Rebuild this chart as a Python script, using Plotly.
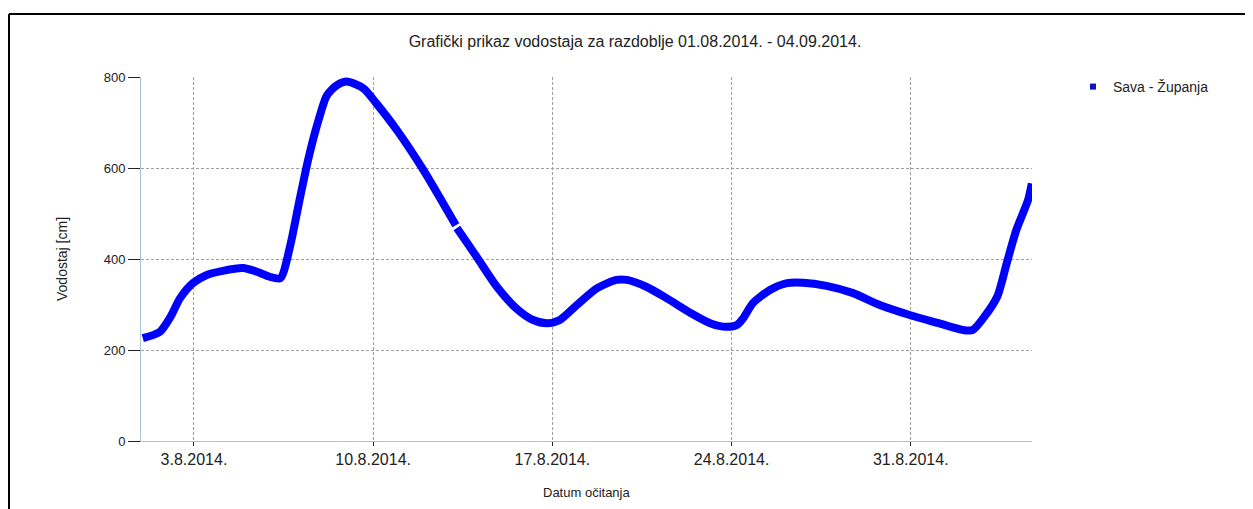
import plotly.graph_objects as go

# ---- data ----
times = [
    "2014-08-01 00:00", "2014-08-01 16:00", "2014-08-02 02:00", "2014-08-02 11:00",
    "2014-08-02 23:00", "2014-08-03 12:00", "2014-08-04 03:00", "2014-08-04 22:00",
    "2014-08-05 11:00", "2014-08-05 23:00", "2014-08-06 09:00", "2014-08-06 18:00",
    "2014-08-07 03:00", "2014-08-07 11:00", "2014-08-07 19:00", "2014-08-08 04:00",
    "2014-08-08 09:00", "2014-08-08 14:00", "2014-08-08 23:00", "2014-08-09 15:00",
    "2014-08-10 03:00",
    "2014-08-10 22:00", "2014-08-11 23:00", "2014-08-12 14:00", "2014-08-13 05:30",
    None,
    "2014-08-13 06:30", "2014-08-14 01:00", "2014-08-14 20:00", "2014-08-15 14:00",
    "2014-08-16 06:00", "2014-08-16 19:00", "2014-08-17 07:00", "2014-08-17 23:00",
    "2014-08-18 18:00", "2014-08-19 12:00", "2014-08-19 22:00", "2014-08-20 16:00",
    "2014-08-21 11:00", "2014-08-22 10:00", "2014-08-23 04:00", "2014-08-23 19:00",
    "2014-08-24 05:00", "2014-08-24 11:00", "2014-08-24 20:00", "2014-08-25 12:00",
    "2014-08-26 04:00", "2014-08-26 19:00", "2014-08-27 17:00", "2014-08-28 18:00",
    "2014-08-29 19:00", "2014-08-30 23:00", "2014-09-01 02:00", "2014-09-02 01:00",
    "2014-09-02 10:00", "2014-09-02 20:00", "2014-09-03 09:00", "2014-09-03 18:00",
    "2014-09-04 03:00", "2014-09-04 14:00", "2014-09-04 17:30",
]
levels_cm = [
    226, 240, 273, 314,
    347, 365, 374, 380,
    372, 361, 358, 427,
    530, 618, 691, 757,
    772, 782, 790, 775,
    742,
    684, 596, 537, 474,
    None,
    468, 405, 339, 292,
    266, 259, 266, 299,
    336, 354, 354, 339,
    314, 281, 259, 251,
    255, 270, 303, 332,
    347, 348, 341, 325,
    299, 277, 259, 244,
    244, 270, 317, 391,
    464, 530, 566,
]
series_name = "Sava - Županja"
title_text = "Grafički prikaz vodostaja za razdoblje 01.08.2014. - 04.09.2014."
x_title = "Datum očitanja"
y_title = "Vodostaj [cm]"
x_range = ["2014-07-31 22:20", "2014-09-04 17:40"]
y_range = [0, 800]

FONT = "Liberation Sans, Arial, sans-serif"
BLUE = "#0000ff"
GRID = "#a0a0a0"
AXIS = "#a9c5db"

# page body adds an 8px offset; figure is sized to compensate
W, H = 1245, 501
L, T, PW, PH = 133, 69, 891, 364

fig = go.Figure()
fig.add_trace(go.Scatter(
    x=times, y=levels_cm, mode="lines",
    line=dict(color=BLUE, width=8, shape="spline", smoothing=0.7),
    connectgaps=False, showlegend=False, hoverinfo="x+y",
))
# legend entry (square marker as in the reference)
fig.add_trace(go.Scatter(
    x=[None], y=[None], mode="markers", name=series_name,
    marker=dict(symbol="square", size=6, color="#1010c0"),
))

fig.update_layout(
    width=W, height=H,
    margin=dict(l=L, r=W - L - PW, t=T, b=H - T - PH),
    paper_bgcolor="white", plot_bgcolor="white",
    font=dict(family=FONT, color="#222222"),
    title=dict(text=title_text, x=627 / W, xref="container", xanchor="center",
               y=1 - 33 / H, yref="container", yanchor="middle",
               font=dict(size=16, family=FONT, color="#222222")),
    legend=dict(x=1.046, y=1.0165, xanchor="left", yanchor="top",
                font=dict(size=14, family=FONT, color="#222222"),
                bgcolor="rgba(0,0,0,0)", itemwidth=30),
    xaxis=dict(
        type="date", range=x_range,
        tick0="2014-08-03", dtick=7 * 86400000, tickformat="%-d.%-m.%Y.",
        showgrid=True, gridcolor=GRID, griddash="3px,2px", gridwidth=1,
        showline=True, linecolor=AXIS, linewidth=1,
        ticks="outside", ticklen=4, tickcolor="#222222",
        tickfont=dict(size=16, family=FONT, color="#222222"),
        zeroline=False,
    ),
    yaxis=dict(
        range=y_range, dtick=200, tick0=0,
        showgrid=True, gridcolor=GRID, griddash="3px,2px", gridwidth=1,
        showline=True, linecolor=AXIS, linewidth=1,
        ticks="outside", ticklen=12, tickcolor="#222222",
        tickfont=dict(size=13, family=FONT, color="#222222"),
        zeroline=False,
    ),
    annotations=[
        dict(text=x_title, xref="paper", yref="paper", x=0.5, y=(441 - 492) / 364,
             xanchor="center", yanchor="middle", showarrow=False,
             font=dict(size=13, family=FONT, color="#222222")),
        dict(text=y_title, xref="paper", yref="paper", x=(62 - 141) / 891, y=0.5,
             xanchor="center", yanchor="middle", showarrow=False, textangle=-90,
             font=dict(size=14, family=FONT, color="#222222")),
    ],
    shapes=[
        dict(type="line", xref="paper", yref="paper",
             x0=(9 - 141) / 891, y0=(441 - 14) / 364, x1=1.3, y1=(441 - 14) / 364,
             line=dict(color="black", width=2)),
        dict(type="line", xref="paper", yref="paper",
             x0=(9 - 141) / 891, y0=(441 - 14) / 364, x1=(9 - 141) / 891, y1=-0.3,
             line=dict(color="black", width=2)),
    ],
)

fig.write_html("out.html")
